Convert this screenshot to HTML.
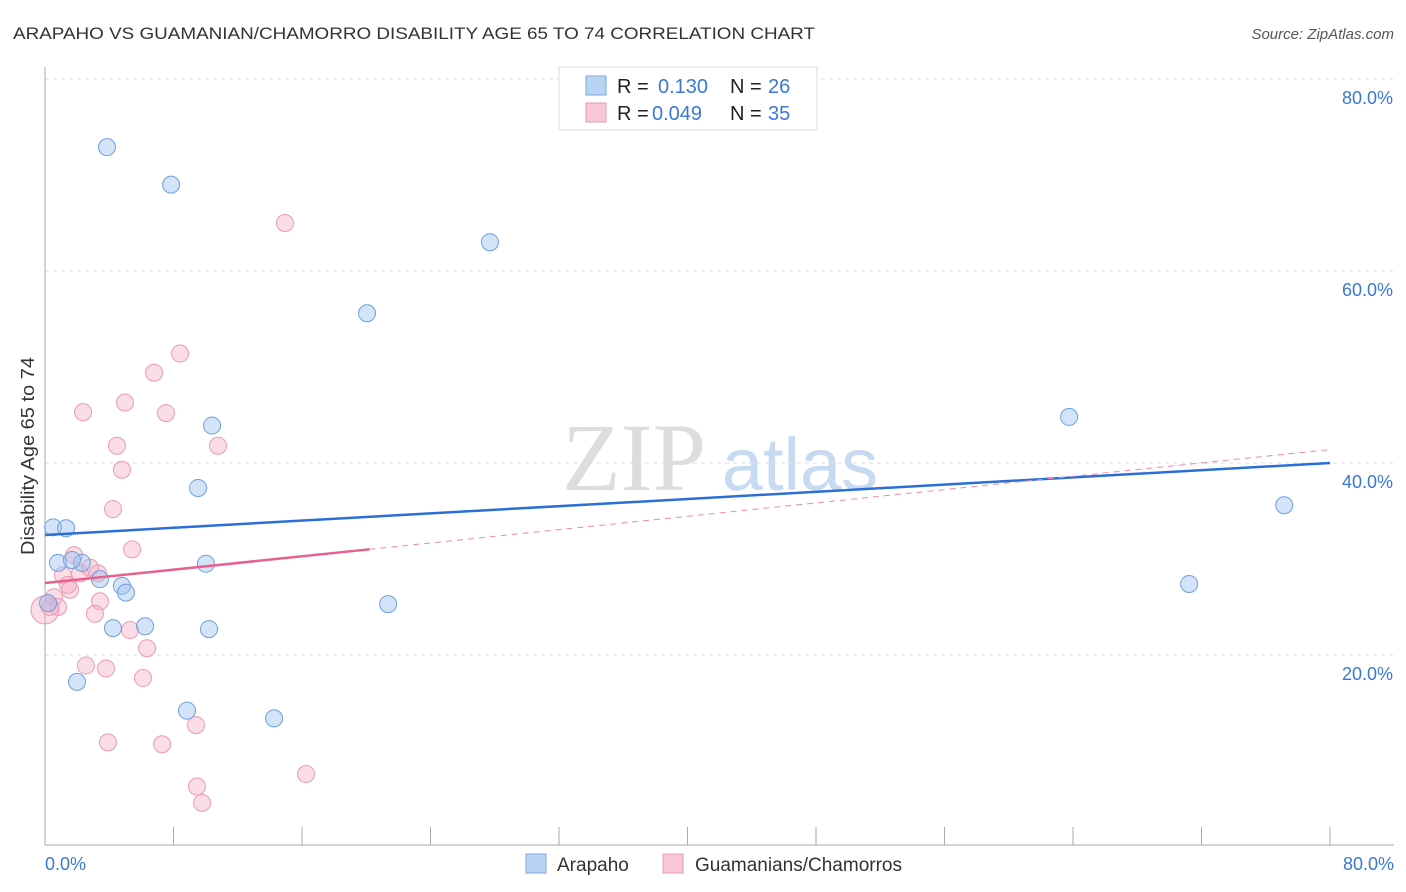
<!DOCTYPE html>
<html><head><meta charset="utf-8">
<style>
body{margin:0;background:#fff;font-family:"Liberation Sans",sans-serif;}
#wrap{position:relative;width:1406px;height:892px;overflow:hidden;}
</style></head>
<body>
<div id="wrap">
<svg id="svg" width="1406" height="892" xmlns="http://www.w3.org/2000/svg">
<text x="13" y="39" font-size="17" fill="#333" textLength="802" lengthAdjust="spacingAndGlyphs">ARAPAHO VS GUAMANIAN/CHAMORRO DISABILITY AGE 65 TO 74 CORRELATION CHART</text>
<text x="1394" y="39" font-size="15" fill="#555" font-style="italic" text-anchor="end">Source: ZipAtlas.com</text>
<text x="34" y="456" font-size="18" fill="#333" text-anchor="middle" textLength="198" lengthAdjust="spacingAndGlyphs" transform="rotate(-90 34 456)">Disability Age 65 to 74</text>
<g>
<text x="634" y="490" font-size="96" font-family="Liberation Serif,serif" fill="#ddd" text-anchor="middle">ZIP</text>
<text x="800" y="490" font-size="74" fill="#c8daf2" text-anchor="middle">atlas</text>
</g>
<g id="grid"></g>
<g id="axes"></g>
<g id="pts"></g>
<g id="lines"></g>
<g>
<rect x="559" y="67" width="258" height="63" fill="#fff" stroke="#ddd"/>
<rect x="586" y="76" width="20" height="19" fill="#b9d3f5" stroke="#7aa8e0"/>
<rect x="586" y="103" width="20" height="19" fill="#f9c8d7" stroke="#eb9ab5"/>
<text x="617" y="93" font-size="20" fill="#222">R = </text><text x="658" y="93" font-size="20" fill="#3a78d6">0.130</text>
<text x="730" y="93" font-size="20" fill="#222">N = </text><text x="768" y="93" font-size="20" fill="#3a78d6">26</text>
<text x="617" y="120" font-size="20" fill="#222">R = </text><text x="652" y="120" font-size="20" fill="#3a78d6">0.049</text>
<text x="730" y="120" font-size="20" fill="#222">N = </text><text x="768" y="120" font-size="20" fill="#3a78d6">35</text>
</g>
<g>
<rect x="526" y="854" width="20" height="19" fill="#b9d3f5" stroke="#7aa8e0"/>
<text x="557" y="871" font-size="19" fill="#333">Arapaho</text>
<rect x="663" y="854" width="20" height="19" fill="#f9c8d7" stroke="#eb9ab5"/>
<text x="695" y="871" font-size="19" fill="#333">Guamanians/Chamorros</text>
</g>
</svg>
</div>
<script>
const blueX=[3.86,7.85,27.7,20.05,10.4,9.53,63.76,77.15,0.5,1.31,0.81,2.3,3.42,4.79,5.04,10.02,4.23,6.23,10.21,21.36,0.19,1.99,8.84,14.26,71.23,1.68];
const blueY=[72.9,69.0,63.0,55.6,43.9,37.4,44.8,35.6,33.3,33.2,29.6,29.6,27.9,27.2,26.5,29.5,22.8,23.0,22.7,25.3,25.4,17.2,14.2,13.4,27.4,29.9];
const pinkX=[14.94,8.41,6.79,2.37,4.98,7.53,4.48,10.77,4.79,4.23,1.81,5.42,3.3,2.18,2.8,1.12,1.56,3.42,0.56,0.31,0.81,3.11,5.29,6.35,2.55,3.8,6.1,3.92,7.29,9.4,16.25,9.46,9.78,0.0,1.43];
const pinkY=[65.0,51.4,49.4,45.3,46.3,45.2,41.8,41.8,39.3,35.2,30.4,31.0,28.5,28.5,29.1,28.3,26.8,25.6,26.0,25.0,25.0,24.3,22.6,20.7,18.9,18.6,17.6,10.9,10.7,12.7,7.6,6.3,4.6,24.7,27.3];
const blueTrend=[32.5,40.0];
const pinkTrend=[27.5,41.4];
const pinkSolidEnd=20.2;
const yTicks=[20,40,60,80];
const yTickLabels=["20.0%","40.0%","60.0%","80.0%"];
const xTicks=[0,8,16,24,32,40,48,56,64,72,80];
const NS="http://www.w3.org/2000/svg";
const sx=v=>45+v*(1285/80);
const sy=v=>847-v*9.6;
function mk(t,a,p){const e=document.createElementNS(NS,t);for(const k in a)e.setAttribute(k,a[k]);p.appendChild(e);return e;}
const grid=document.getElementById('grid'),axes=document.getElementById('axes'),pts=document.getElementById('pts'),lines=document.getElementById('lines');
yTicks.forEach((v,i)=>{
 const l=mk('line',{x1:45,x2:1394,y1:sy(v),y2:sy(v),stroke:'#ddd','stroke-dasharray':'4,4'},grid);
 
 
 const t=mk('text',{x:1393,y:sy(v)+25,'font-size':18,fill:'#3a78d6','text-anchor':'end'},grid);
 t.textContent=yTickLabels[i];
 
 
});
const ax=mk('line',{x1:45,x2:45,y1:67,y2:845,stroke:'#aaa'},axes);


const bx=mk('line',{x1:45,x2:1394,y1:845,y2:845,stroke:'#aaa'},axes);


xTicks.forEach(v=>{
 const t=mk('line',{x1:sx(v),x2:sx(v),y1:827,y2:845,stroke:'#aaa'},axes);
 
 
});
const xl0=mk('text',{x:45,y:870,'font-size':18,fill:'#3a78d6'},axes);xl0.textContent='0.0%';


const xl1=mk('text',{x:1394,y:870,'font-size':18,fill:'#3a78d6','text-anchor':'end'},axes);xl1.textContent='80.0%';


pinkX.forEach((x,i)=>{
 const c=mk('circle',{cx:sx(x),cy:sy(pinkY[i]),r:(i==33?14:8.5),fill:'rgba(244,170,195,0.4)',stroke:'#eb9ab5','stroke-width':1},pts);
 
 
});
blueX.forEach((x,i)=>{
 const c=mk('circle',{cx:sx(x),cy:sy(blueY[i]),r:8.5,fill:'rgba(160,196,240,0.45)',stroke:'#6f9fdc','stroke-width':1},pts);
 
 
});
const b=mk('line',{x1:sx(0),y1:sy(blueTrend[0]),x2:sx(80),y2:sy(blueTrend[1]),stroke:'#2a6fd6','stroke-width':2.5},lines);


const pAt=v=>pinkTrend[0]+(pinkTrend[1]-pinkTrend[0])*v/80;
const pd=mk('line',{x1:sx(pinkSolidEnd),y1:sy(pAt(pinkSolidEnd)),x2:sx(80),y2:sy(pinkTrend[1]),stroke:'#eb8aab','stroke-width':1,'stroke-dasharray':'6,5'},lines);


const ps=mk('line',{x1:sx(0),y1:sy(pinkTrend[0]),x2:sx(pinkSolidEnd),y2:sy(pAt(pinkSolidEnd)),stroke:'#e8608f','stroke-width':2.5},lines);


</script>
</body></html>
